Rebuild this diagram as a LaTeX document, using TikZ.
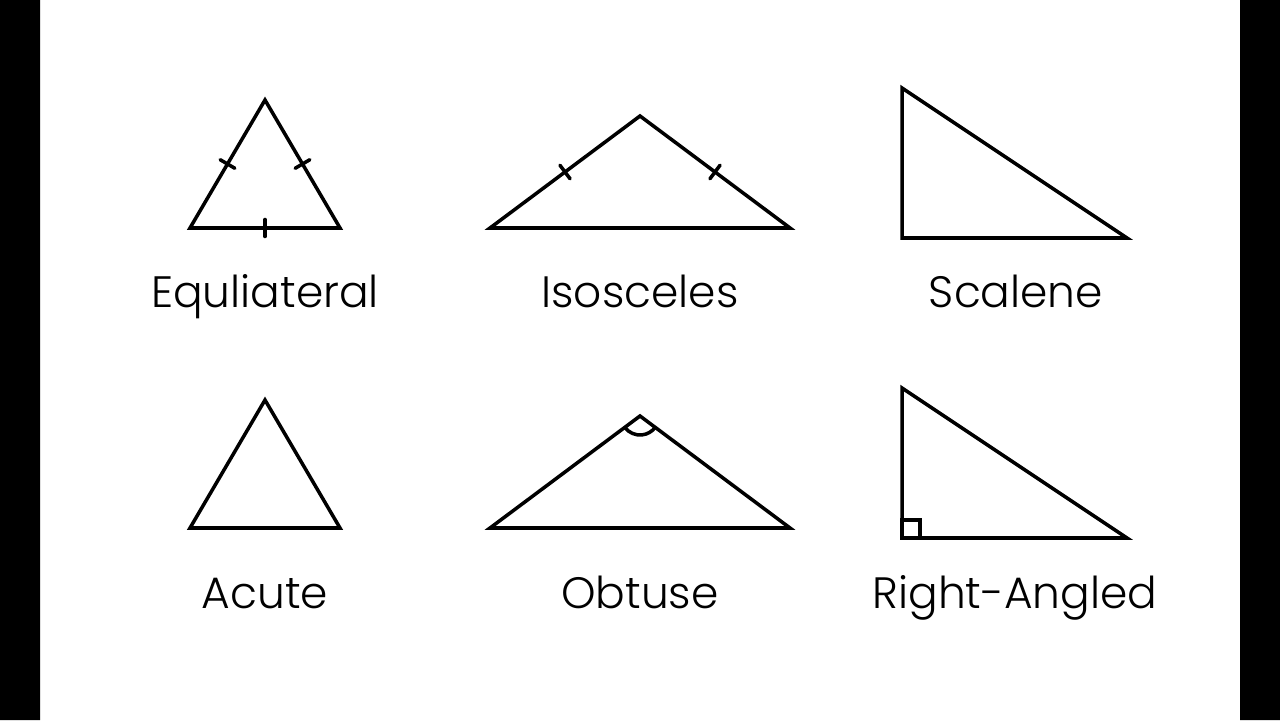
\documentclass[tikz,border=0pt]{standalone}
\usepackage{fontspec}
\setmainfont{Poppins Light}
\usetikzlibrary{calc}
\begin{document}
\begin{tikzpicture}[x=0.02cm, y=0.02cm, line width=2pt, line cap=round,
	font=\fontsize{25}{30}\selectfont]
		\def\tk{0.17cm} % half tick
		\tikzset{lbl/.style={anchor=base, inner sep=0pt}}
		\useasboundingbox (0,0) rectangle (1280,720);
		\fill (0,0) rectangle (40,720) (1240,0) rectangle (1280,720);
		% top row
		\coordinate (eA) at (265,620); \coordinate (eB) at (190,492); \coordinate (eC) at (340,492);
		\coordinate (iA) at (640,604); \coordinate (iB) at (490,492); \coordinate (iC) at (790,492);
		\coordinate (sA) at (902,632); \coordinate (sB) at (902,482); \coordinate (sC) at (1127,482);
		\draw (eA)--(eB)--(eC)--cycle (iA)--(iB)--(iC)--cycle (sA)--(sB)--(sC)--cycle;
		\foreach \p/\q in {eA/eB, eB/eC, eC/eA, iA/iB, iC/iA}
			\draw ($(\p)!0.5!(\q)!\tk!90:(\q)$)--($(\p)!0.5!(\q)!\tk!-90:(\q)$);
		\node[lbl] (equi) at (265,412) {Equliateral};
		\node[lbl] (isos) at (640,412) {Isosceles};
		\node[lbl] (scal) at (1016,412) {Scalene};
		% bottom row
		\coordinate (aA) at (265,320); \coordinate (aB) at (190,192); \coordinate (aC) at (340,192);
		\coordinate (oA) at (640,304); \coordinate (oB) at (490,192); \coordinate (oC) at (790,192);
		\coordinate (rA) at (902,332); \coordinate (rB) at (902,182); \coordinate (rC) at (1127,182);
		\draw (aA)--(aB)--(aC)--cycle (oA)--(oB)--(oC)--cycle (rA)--(rB)--(rC)--cycle;
		\draw ([shift={(216.7:0.38cm)}]oA) arc (216.7:323.3:0.38cm);
		\draw (rB) rectangle ++(18,18);
		\node[lbl] (acut) at (265,112) {Acute};
		\node[lbl] (obtu) at (640,112) {Obtuse};
		\node[lbl] (righ) at (1015,112) {Right-Angled};
\end{tikzpicture}
\end{document}
